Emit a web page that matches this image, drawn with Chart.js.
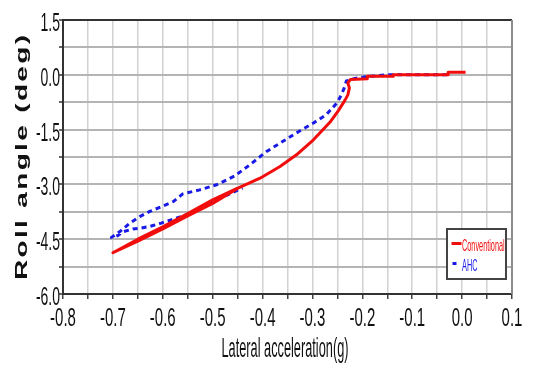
<!DOCTYPE html>
<html>
<head>
<meta charset="utf-8">
<script src="https://cdn.jsdelivr.net/npm/chart.js@4.4.1/dist/chart.umd.min.js"></script>
<style>
    html, body { margin: 0; padding: 0; background: #fff; }
    #wrap { width: 536px; height: 370px; position: relative; }
</style>
</head>
<body>
<div id="wrap"><canvas id="rollChart"></canvas></div>
<script>
// Roll angle vs lateral acceleration, conventional suspension against AHC
const xConventional = [0.007, -0.028, -0.028, -0.138, -0.138, -0.19, -0.19, -0.224, -0.229, -0.226, -0.229, -0.235, -0.248, -0.265, -0.298, -0.332, -0.365, -0.405, -0.446, -0.50, -0.55, -0.60, -0.65, -0.70, -0.65, -0.60, -0.55, -0.50, -0.45];
const yConventional = [0.07, 0.07, 0.0, 0.0, -0.04, -0.04, -0.11, -0.13, -0.22, -0.36, -0.55, -0.70, -0.98, -1.30, -1.78, -2.19, -2.51, -2.83, -3.08, -3.52, -3.86, -4.22, -4.55, -4.87, -4.50, -4.16, -3.80, -3.42, -3.10];

const xAHC = [-0.03, -0.10, -0.15, -0.19, -0.215, -0.232, -0.236, -0.242, -0.251, -0.272, -0.298, -0.332, -0.359, -0.392, -0.425, -0.455, -0.492, -0.526, -0.56, -0.579, -0.603, -0.626, -0.646, -0.666, -0.686, -0.703, -0.69, -0.68, -0.66, -0.646, -0.626, -0.603, -0.583, -0.55, -0.50, -0.45, -0.44];
const yAHC = [0.0, 0.0, 0.0, -0.05, -0.10, -0.17, -0.35, -0.55, -0.77, -1.09, -1.32, -1.59, -1.82, -2.10, -2.46, -2.76, -3.01, -3.15, -3.26, -3.47, -3.61, -3.74, -3.88, -4.06, -4.29, -4.45, -4.40, -4.30, -4.22, -4.20, -4.15, -4.06, -3.97, -3.82, -3.48, -3.16, -3.10];

const xTickLabels = ['-0.8', '-0.7', '-0.6', '-0.5', '-0.4', '-0.3', '-0.2', '-0.1', '0.0', '0.1'];
const yTickLabels = ['1.5', '0.0', '-1.5', '-3.0', '-4.5', '-6.0'];

const X_TITLE = 'Lateral acceleration(g)';
const Y_TITLE = 'Roll angle (deg)';
const FONT = "'Liberation Sans', Arial, sans-serif";

function toPoints(xs, ys) {
    return xs.map((x, i) => ({ x: x, y: ys[i] }));
}

// Narrow text: draw at a normal size then squeeze horizontally
function squeezedText(ctx, text, x, y, sx, align) {
    ctx.save();
    ctx.translate(x, y);
    ctx.scale(sx, 1);
    ctx.textAlign = align;
    ctx.fillText(text, 0, 0);
    ctx.restore();
}

const textPlugin = {
    id: 'axisText',
    afterDraw(chart) {
        const ctx = chart.ctx;
        const xs = chart.scales.x;
        const ys = chart.scales.y;
        const area = chart.chartArea;

        // frame top and right
        ctx.save();
        ctx.lineWidth = 2;
        ctx.strokeStyle = '#333';
        ctx.beginPath();
        ctx.moveTo(area.left, area.top);
        ctx.lineTo(area.right, area.top);
        ctx.stroke();
        ctx.strokeStyle = '#8c8c8c';
        ctx.beginPath();
        ctx.moveTo(area.right, area.top);
        ctx.lineTo(area.right, area.bottom);
        ctx.stroke();
        ctx.restore();

        ctx.save();
        ctx.fillStyle = '#111';
        ctx.textBaseline = 'alphabetic';
        ctx.font = '25px ' + FONT;
        xTickLabels.forEach(lab => {
            const px = xs.getPixelForValue(parseFloat(lab));
            squeezedText(ctx, lab, px, area.bottom + 32, 0.6, 'center');
        });
        yTickLabels.forEach(lab => {
            const py = ys.getPixelForValue(parseFloat(lab));
            squeezedText(ctx, lab, area.left - 3, py + 11, 0.56, 'right');
        });

        // x title
        ctx.font = '28px ' + FONT;
        const wx = ctx.measureText(X_TITLE).width;
        squeezedText(ctx, X_TITLE, 285, 357, 127 / wx, 'center');

        // y title, rotated, letters stretched along the text
        ctx.font = 'bold 16px ' + FONT;
        const chars = Y_TITLE.split('');
        const stretch = 1.75;
        const natural = chars.reduce((s, c) => s + ctx.measureText(c).width, 0);
        const span = 245;
        const extra = (span - natural * stretch) / (chars.length - 1);
        ctx.translate(27, 157.5);
        ctx.rotate(-Math.PI / 2);
        let pos = -span / 2;
        chars.forEach(c => {
            const w = ctx.measureText(c).width;
            ctx.save();
            ctx.translate(pos, 0);
            ctx.scale(stretch, 1);
            ctx.textAlign = 'left';
            ctx.fillText(c, 0, 0);
            ctx.restore();
            pos += w * stretch + extra;
        });
        ctx.restore();

        // legend box
        ctx.save();
        const bx = 447, by = 229, bw = 59, bh = 50;
        ctx.fillStyle = '#fff';
        ctx.fillRect(bx, by, bw, bh);
        ctx.lineWidth = 2;
        ctx.strokeStyle = '#444';
        ctx.strokeRect(bx, by, bw, bh);
        ctx.font = '17px ' + FONT;
        ctx.textBaseline = 'alphabetic';
        chart.data.datasets.forEach((ds, i) => {
            const ly = by + 14.5 + i * 20;
            ctx.strokeStyle = ds.borderColor;
            ctx.lineWidth = 3;
            ctx.beginPath();
            if (i === 0) {
                ctx.moveTo(bx + 4.5, ly);
                ctx.lineTo(bx + 14.5, ly);
            } else {
                ctx.moveTo(bx + 5.5, ly);
                ctx.lineTo(bx + 9.5, ly);
            }
            ctx.stroke();
            ctx.fillStyle = ds.borderColor;
            squeezedText(ctx, ds.label, bx + 15, ly + 7, 0.43, 'left');
        });
        ctx.restore();
    }
};

new Chart(document.getElementById('rollChart'), {
    type: 'scatter',
    data: {
        datasets: [
            {
                label: 'Conventional',
                data: toPoints(xConventional, yConventional),
                showLine: true,
                borderColor: '#f20d0d',
                borderWidth: 3,
                borderJoinStyle: 'round',
                pointRadius: 0,
                tension: 0
            },
            {
                label: 'AHC',
                data: toPoints(xAHC, yAHC),
                showLine: true,
                borderColor: '#1a1ae6',
                borderWidth: 3,
                borderDash: [5, 4],
                borderJoinStyle: 'round',
                pointRadius: 0,
                tension: 0
            }
        ]
    },
    options: {
        responsive: true,
        maintainAspectRatio: false,
        animation: false,
        layout: { padding: { left: 0, right: 24, top: 20, bottom: 0 } },
        plugins: {
            legend: { display: false },
            tooltip: { enabled: false }
        },
        scales: {
            x: {
                type: 'linear',
                min: -0.8,
                max: 0.1,
                afterFit: s => { s.height = 76; },
                ticks: { display: false, stepSize: 0.05 },
                grid: { color: '#d2d2d2', lineWidth: 1.5, tickColor: '#444', tickLength: 5 },
                border: { color: '#333', width: 2 }
            },
            y: {
                type: 'linear',
                min: -6,
                max: 1.5,
                afterFit: s => { s.width = 63; },
                ticks: { display: false, stepSize: 0.75 },
                grid: { color: '#b4b4b4', lineWidth: 2, tickColor: '#666', tickLength: 4 },
                border: { color: '#333', width: 2 }
            }
        }
    },
    plugins: [textPlugin]
});
</script>
</body>
</html>
